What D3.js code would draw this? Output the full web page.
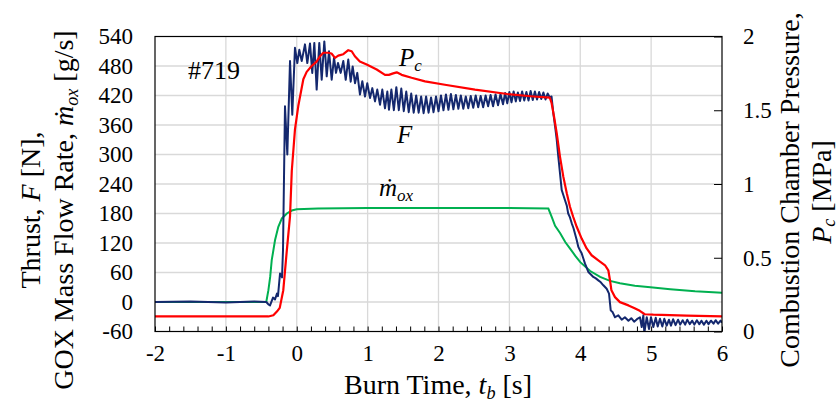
<!DOCTYPE html>
<html><head><meta charset="utf-8">
<script src="https://cdn.jsdelivr.net/npm/d3@7"></script>
<style>
body{margin:0;background:#fff}
svg{display:block}
text{font-family:"Liberation Serif","Times New Roman",serif;fill:#000}
</style>
</head><body>
<svg id="chart" width="840" height="410"></svg>
<script>
// ---------- data ----------
const xTickValues = [-2,-1,0,1,2,3,4,5,6];
const leftTickValues = [-60,0,60,120,180,240,300,360,420,480,540];
const rightTickValues = [0,0.5,1,1.5,2];

// Thrust F [N]
const thrustTime = [-2,-1.5,-1,-0.6,-0.43,-0.40,-0.377,-0.335,-0.307,-0.279,-0.265,-0.236,-0.208,-0.194,-0.166,-0.133,-0.095,-0.063,-0.025,
0.008,0.036,0.070,0.116,0.149,0.187,0.219,0.248,0.281,0.318,0.352,0.389,0.423,0.455,0.493,0.526,0.554,0.582,0.620,0.657,0.691,0.727,0.761,0.789,0.822,0.854,0.892,0.925,0.963,0.995,
1.034,1.066,1.104,1.136,1.175,1.207,1.245,1.278,1.301,1.335,1.37,1.405,1.44,1.475,1.51,1.545,1.58,1.615,1.65,1.685,1.72,1.755,1.79,1.825,1.86,1.895,1.93,1.965,
2.0,2.035,2.07,2.105,2.14,2.175,2.21,2.245,2.28,2.315,2.35,2.385,2.42,2.455,2.49,2.525,2.56,2.595,2.63,2.665,2.70,2.735,2.77,2.805,2.84,2.875,2.91,2.94,2.97,
3.0,3.03,3.06,3.09,3.12,3.15,3.18,3.21,3.24,3.27,3.30,3.33,3.36,3.39,3.42,3.45,3.48,3.51,3.54,3.57,
3.595,3.62,3.645,3.668,3.69,3.714,3.738,3.76,3.785,3.81,3.83,3.855,3.88,3.905,3.926,3.95,3.973,4.0,4.02,4.045,4.067,4.09,4.114,4.15,4.184,4.22,4.255,4.29,4.326,4.373,4.406,4.418,4.43,4.458,4.49,4.537,4.585,4.63,4.68,4.72,4.76,4.80,
4.843,4.867,4.890,4.904,4.938,4.970,4.998,5.031,5.065,5.093,5.125,5.158,5.186,5.220,5.252,5.280,5.31,5.345,5.38,5.41,5.445,5.48,5.51,5.545,5.58,5.61,5.645,5.68,5.71,5.745,5.78,5.81,5.845,5.88,5.91,5.945,5.98,6.0];
const thrustValue = [0,1,-1,1,0,-5,-7,9,5,17,12,58,50,105,398,300,490,381,517,
486,513,490,524,486,526,466,527,432,527,452,530,459,510,452,497,466,486,466,490,452,493,448,479,445,466,422,449,418,445,
415,435,408,432,401,432,394,428,391,432,390,437,390,434,388,428,386,424,385,420,385,418,384,418,385,416,386,418,
388,420,390,422,391,423,392,421,393,420,393,418,394,419,395,420,396,419,396,420,398,421,398,422,400,423,402,425,404,
427,406,428,408,426,409,428,410,427,410,429,411,428,412,427,413,426,412,424,416,
418,384,357,330,296,262,228,218,207,196,180,172,160,150,139,126,112,104,99,88,78,70,61,56,51,48,44,40,34,27,17,0,-17,-21,-31,-27,-36,-31,-38,-33,-40,-35,
-31,-51,-27,-63,-31,-55,-31,-51,-32,-50,-34,-50,-34,-48,-36,-48,-35,-47,-36,-46,-37,-46,-36,-45,-38,-46,-37,-45,-38,-46,-38,-45,-38,-44,-37,-44,-38,-42];

// Chamber pressure Pc [MPa]
const pcTime = [-2,-1,-0.40,-0.33,-0.28,-0.24,-0.19,-0.14,-0.095,-0.07,-0.025,0.022,0.093,0.14,0.21,0.28,0.328,0.375,0.445,0.49,0.54,0.586,0.657,0.727,0.775,0.82,0.89,0.987,
1.128,1.245,1.30,1.36,1.41,1.48,1.62,1.81,2.09,2.515,2.97,3.3,3.57,3.595,3.63,3.668,3.714,3.761,3.81,3.855,3.90,3.95,4.02,4.09,4.16,4.255,4.35,4.396,4.42,4.44,4.49,4.56,4.68,4.76,4.84,4.91,5.03,5.5,6.0];
const pcValue = [0.102,0.102,0.102,0.11,0.135,0.16,0.28,0.55,0.78,1.09,1.37,1.53,1.71,1.76,1.80,1.83,1.866,1.89,1.89,1.885,1.855,1.87,1.88,1.907,1.90,1.866,1.83,1.81,
1.776,1.74,1.74,1.75,1.757,1.74,1.72,1.696,1.673,1.64,1.61,1.595,1.585,1.55,1.458,1.345,1.186,1.05,0.937,0.846,0.778,0.71,0.63,0.563,0.517,0.483,0.449,0.415,0.347,0.279,0.233,0.199,0.177,0.16,0.14,0.117,0.114,0.108,0.102];

// GOX mass flow rate [g/s]
const moxTime = [-2,-1,-0.43,-0.40,-0.375,-0.353,-0.306,-0.26,-0.21,-0.14,-0.07,0,0.3,1.0,2.0,3.0,3.55,3.60,3.645,3.717,3.788,3.859,3.93,4.0,4.14,4.28,4.42,4.56,4.77,4.99,5.27,5.62,6.0];
const moxValue = [0,0,0,24,51,85,126,153,170,180,186,188.5,190,191,191,191,190,172,155,140,122,108,94,81,63,51,43,38,33,30,26,22,19];

// ---------- chart ----------
const svg = d3.select("#chart");
const L = 155, R = 722, T = 36.5, B = 331.5;
const x = d3.scaleLinear().domain([-2,6]).range([L,R]);
const yL = d3.scaleLinear().domain([-60,540]).range([B,T]);
const yR = d3.scaleLinear().domain([0,2]).range([B,T]);

// gridlines
svg.append("g").selectAll("line").data(leftTickValues.slice(1,-1)).join("line")
  .attr("x1",L).attr("x2",R).attr("y1",d=>yL(d)).attr("y2",d=>yL(d))
  .attr("stroke","#d9d9d9").attr("stroke-width",1.3);
svg.append("g").selectAll("line").data(xTickValues.slice(1,-1)).join("line")
  .attr("y1",T).attr("y2",B).attr("x1",d=>x(d)).attr("x2",d=>x(d))
  .attr("stroke","#d9d9d9").attr("stroke-width",1.3);

// minor x ticks (inward)
const minor = d3.range(-2,6.0001,0.2);
svg.append("g").attr("transform",`translate(0,${B})`)
  .call(d3.axisBottom(x).tickValues(minor).tickSize(-5).tickFormat(""))
  .call(g=>g.select(".domain").remove())
  .call(g=>g.selectAll("line").attr("stroke","#000"));

// right ticks inward
svg.append("g").attr("transform",`translate(${R},0)`)
  .call(d3.axisRight(yR).tickValues(rightTickValues).tickSize(-8).tickFormat(""))
  .call(g=>g.select(".domain").remove());

// series
const line = (xs, ys, yScale) => d3.line().x((d,i)=>x(xs[i])).y((d,i)=>yScale(ys[i]))(xs);
svg.append("clipPath").attr("id","clip").append("rect").attr("x",L).attr("y",T).attr("width",R-L).attr("height",B-T);
const plot = svg.append("g").attr("clip-path","url(#clip)");
plot.append("path").attr("d",line(moxTime,moxValue,yL)).attr("fill","none").attr("stroke","#00b050").attr("stroke-width",2);
plot.append("path").attr("d",line(thrustTime,thrustValue,yL)).attr("fill","none").attr("stroke","#14286e").attr("stroke-width",2).attr("stroke-linejoin","round");
plot.append("path").attr("d",line(pcTime,pcValue,yR)).attr("fill","none").attr("stroke","#ff0000").attr("stroke-width",2.2).attr("stroke-linejoin","round");

// frame
svg.append("rect").attr("x",L).attr("y",T).attr("width",R-L).attr("height",B-T)
  .attr("fill","none").attr("stroke","#000").attr("stroke-width",1.2);

// tick labels
const fs = "23px";
const fmt = d => String(d);
svg.append("g").attr("transform",`translate(0,${B})`)
  .call(d3.axisBottom(x).tickValues(xTickValues).tickSize(0).tickPadding(13).tickFormat(fmt))
  .call(g=>g.select(".domain").remove())
  .call(g=>g.selectAll("text").attr("font-size",fs));
svg.append("g").attr("transform",`translate(${L},0)`)
  .call(d3.axisLeft(yL).tickValues(leftTickValues).tickSize(0).tickPadding(22).tickFormat(fmt))
  .call(g=>g.select(".domain").remove())
  .call(g=>g.selectAll("text").attr("font-size",fs));
svg.append("g").attr("transform",`translate(${R},0)`)
  .call(d3.axisRight(yR).tickValues(rightTickValues).tickSize(0).tickPadding(21).tickFormat(fmt))
  .call(g=>g.select(".domain").remove())
  .call(g=>g.selectAll("text").attr("font-size",fs));
svg.selectAll("g[font-family]").attr("font-family",null);
svg.selectAll(".tick text").attr("fill","#000");

// axis titles
const tfs = 28;
const xt = svg.append("text").attr("x",438).attr("y",394).attr("text-anchor","middle").attr("font-size",tfs);
xt.append("tspan").text("Burn Time, ");
xt.append("tspan").attr("font-style","italic").text("t");
xt.append("tspan").attr("font-style","italic").attr("font-size",tfs*0.65).attr("dy",5).text("b");
xt.append("tspan").attr("dy",-5).text(" [s]");

const lt1 = svg.append("text").attr("transform","translate(30,210) rotate(-90)").attr("text-anchor","middle").attr("dy","0.35em").attr("font-size",tfs);
lt1.append("tspan").text("Thrust, ");
lt1.append("tspan").attr("font-style","italic").text("F");
lt1.append("tspan").text(" [N],");
const lt2 = svg.append("text").attr("transform","translate(63,210) rotate(-90)").attr("text-anchor","middle").attr("dy","0.35em").attr("font-size",tfs);
lt2.append("tspan").text("GOX Mass Flow Rate, ");
lt2.append("tspan").attr("font-style","italic").text("ṁ");
lt2.append("tspan").attr("font-style","italic").attr("font-size",tfs*0.65).attr("dy",5).text("ox");
lt2.append("tspan").attr("dy",-5).text(" [g/s]");

svg.append("text").attr("transform","translate(789,190) rotate(-90)").attr("text-anchor","middle").attr("dy","0.35em").attr("font-size",tfs)
  .text("Combustion Chamber Pressure,");
const rt2 = svg.append("text").attr("transform","translate(821,192) rotate(-90)").attr("text-anchor","middle").attr("dy","0.35em").attr("font-size",tfs);
rt2.append("tspan").attr("font-style","italic").text("P");
rt2.append("tspan").attr("font-style","italic").attr("font-size",tfs*0.65).attr("dy",4).text("c");
rt2.append("tspan").attr("dy",-4).text(" [MPa]");

// annotations
svg.append("text").attr("x",188).attr("y",79).attr("font-size",26).text("#719");
const aP = svg.append("text").attr("x",399).attr("y",66).attr("font-size",25).attr("font-style","italic");
aP.append("tspan").text("P");
aP.append("tspan").attr("font-size",17).attr("dy",5).text("c");
svg.append("text").attr("x",397).attr("y",143).attr("font-size",25).attr("font-style","italic").text("F");
const aM = svg.append("text").attr("x",379).attr("y",196).attr("font-size",25).attr("font-style","italic");
aM.append("tspan").text("ṁ");
aM.append("tspan").attr("font-size",17).attr("dy",5).text("ox");
</script>
</body></html>
